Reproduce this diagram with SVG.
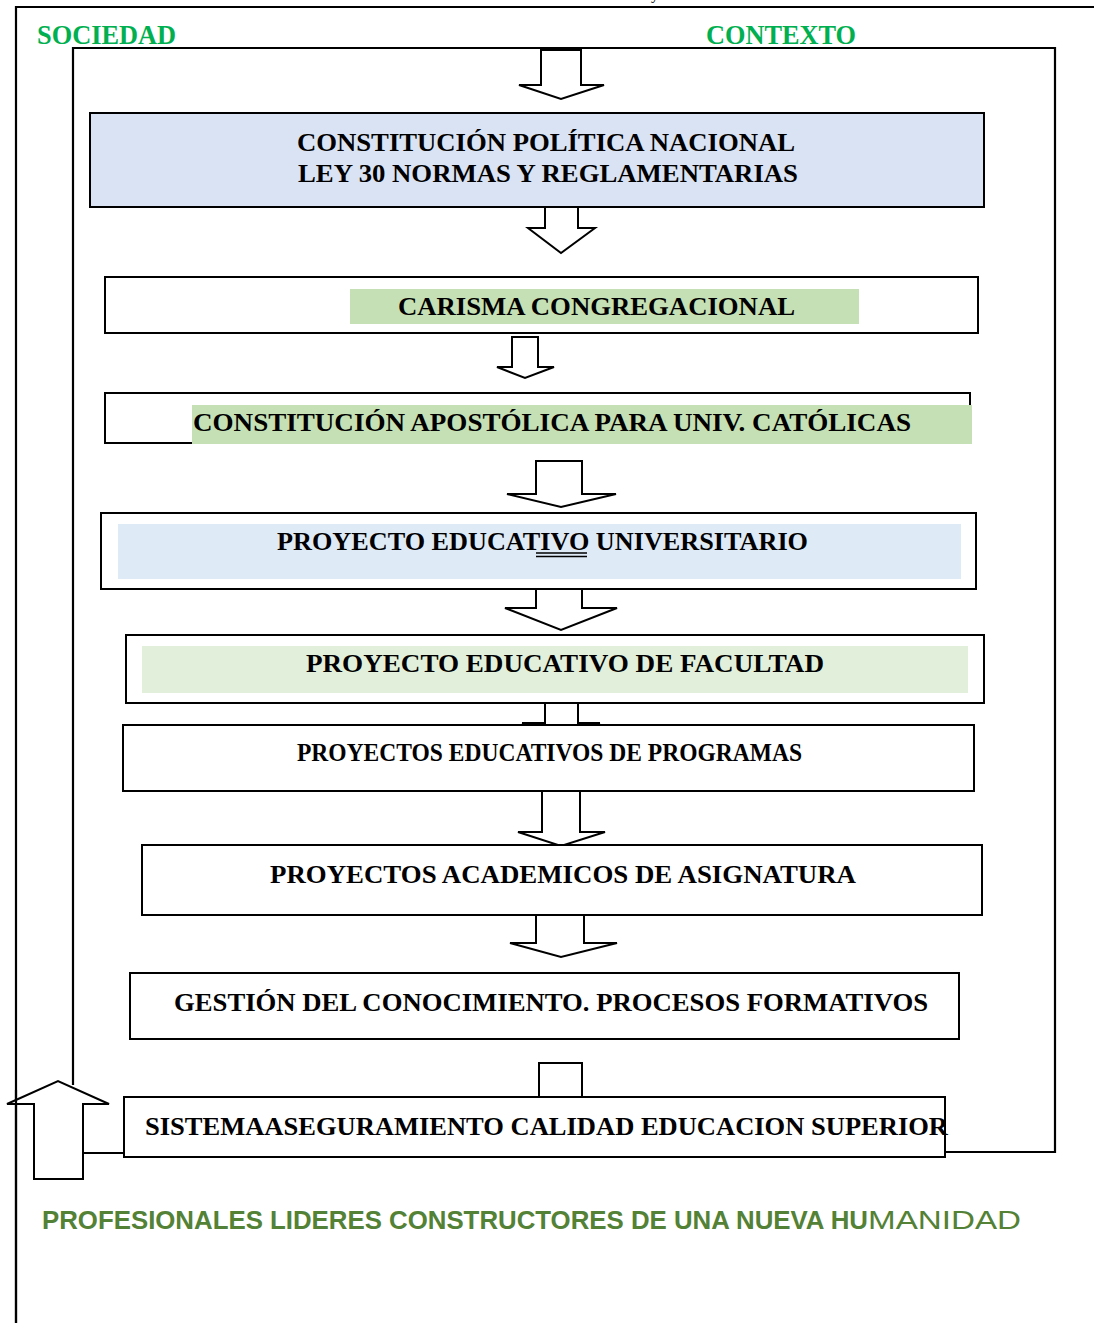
<svg xmlns="http://www.w3.org/2000/svg" width="1094" height="1323" viewBox="0 0 1094 1323">
<style>
.frame{fill:none;stroke:#000;stroke-width:2.2}
.box{fill:#fff;stroke:#000;stroke-width:2}
.arr{fill:#fff;stroke:#000;stroke-width:2;stroke-linejoin:miter}
.t{font-family:"Liberation Serif","Times New Roman",serif;font-weight:bold;font-size:26px;fill:#000;text-anchor:start}
.g{font-family:"Liberation Serif","Times New Roman",serif;font-weight:bold;font-size:27px;fill:#00B050}
.b{font-family:"Liberation Sans",Arial,sans-serif;font-size:26px;fill:#538135}
</style>
<rect width="1094" height="1323" fill="#fff"/>
<text x="651" y="-1" font-family="Liberation Serif,serif" font-size="16">y</text>
<g id="frames">
<polyline class="frame" points="1094,7 16,7 16,1323"/>
<polyline class="frame" points="73,1085 73,48 1055,48 1055,1152 945,1152"/>
</g>
<text class="g" x="37" y="44" textLength="139" lengthAdjust="spacingAndGlyphs">SOCIEDAD</text>
<text class="g" x="706" y="44" textLength="150" lengthAdjust="spacingAndGlyphs">CONTEXTO</text>
<g id="connectors">
<polygon class="arr" points="541,50 541,85 519,85 561,99 604,85 581,85 581,50"/>
<polygon class="arr" points="545,207 545,228 528,228 561,253 595,228 578,228 578,207"/>
<polygon class="arr" points="512,337 512,367 497,367 525,378 554,367 538,367 538,337"/>
<polygon class="arr" points="536,461 536,494 507,494 561,507 616,494 582,494 582,461"/>
<polygon class="arr" points="536,589 536,608 505,608 561,630 617,608 582,608 582,589"/>
<polygon class="arr" points="545,703 545,723 522,723 561,728 600,723 578,723 578,703"/>
<polygon class="arr" points="542,791 542,832 518,832 561,846 605,832 580,832 580,791"/>
<polygon class="arr" points="536,915 536,943 510,943 561,957 617,943 584,943 584,915"/>
<polyline class="arr" points="539,1098 539,1063 582,1063 582,1098"/>
<polygon class="arr" points="34,1179 34,1104 7,1104 58,1081 109,1104 83,1104 83,1179"/>
<line x1="83" y1="1153" x2="124" y2="1153" stroke="#000" stroke-width="2"/>
<line x1="16" y1="1090" x2="16" y2="1323" stroke="#000" stroke-width="2.2"/>
</g>
<g id="n1">
<rect x="90" y="113" width="894" height="94" fill="#DAE3F3" stroke="#000" stroke-width="2"/>
<text class="t" x="297" y="151" textLength="498" lengthAdjust="spacingAndGlyphs">CONSTITUCIÓN POLÍTICA NACIONAL</text>
<text class="t" x="298" y="182" textLength="500" lengthAdjust="spacingAndGlyphs">LEY 30 NORMAS Y REGLAMENTARIAS</text>
</g>
<g id="n2">
<rect class="box" x="105" y="277" width="873" height="56"/>
<rect x="350" y="289" width="509" height="35" fill="#C5E0B4"/>
<text class="t" x="398" y="315" textLength="397" lengthAdjust="spacingAndGlyphs">CARISMA CONGREGACIONAL</text>
</g>
<g id="n3">
<rect class="box" x="105" y="393" width="865" height="50"/>
<rect x="192" y="405" width="780" height="39" fill="#C5E0B4"/>
<text class="t" x="193" y="431" textLength="718" lengthAdjust="spacingAndGlyphs">CONSTITUCIÓN APOSTÓLICA PARA UNIV. CATÓLICAS</text>
</g>
<g id="n4">
<rect class="box" x="101" y="513" width="875" height="76"/>
<rect x="118" y="524" width="843" height="55" fill="#DEEAF6"/>
<text class="t" x="277" y="550" textLength="531" lengthAdjust="spacingAndGlyphs">PROYECTO EDUCATIVO UNIVERSITARIO</text>
<line x1="536" y1="553" x2="587" y2="553" stroke="#000" stroke-width="1.5"/>
<line x1="536" y1="556.5" x2="587" y2="556.5" stroke="#000" stroke-width="1.5"/>
</g>
<g id="n5">
<rect class="box" x="126" y="635" width="858" height="68"/>
<rect x="142" y="646" width="826" height="47" fill="#E2EFDA"/>
<text class="t" x="306" y="672" textLength="518" lengthAdjust="spacingAndGlyphs">PROYECTO EDUCATIVO DE FACULTAD</text>
</g>
<g id="n6">
<rect class="box" x="123" y="725" width="851" height="66"/>
<text class="t" x="297" y="761" font-size="23" textLength="505" lengthAdjust="spacingAndGlyphs">PROYECTOS  EDUCATIVOS DE PROGRAMAS</text>
</g>
<g id="n7">
<rect class="box" x="142" y="845" width="840" height="70"/>
<text class="t" x="270" y="883" textLength="586" lengthAdjust="spacingAndGlyphs">PROYECTOS ACADEMICOS DE ASIGNATURA</text>
</g>
<g id="n8">
<rect class="box" x="130" y="973" width="829" height="66"/>
<text class="t" x="174" y="1011" textLength="754" lengthAdjust="spacingAndGlyphs">GESTIÓN DEL CONOCIMIENTO. PROCESOS FORMATIVOS</text>
</g>
<g id="n9">
<rect class="box" x="124" y="1097" width="821" height="60"/>
<text class="t" x="145" y="1135" textLength="803" lengthAdjust="spacingAndGlyphs">SISTEMAASEGURAMIENTO CALIDAD EDUCACION SUPERIOR</text>
</g>
<g id="result">
<text class="b" x="42" y="1229" font-weight="bold" textLength="826" lengthAdjust="spacingAndGlyphs">PROFESIONALES LIDERES CONSTRUCTORES DE UNA NUEVA HU</text>
<text class="b" x="868" y="1229" textLength="153" lengthAdjust="spacingAndGlyphs">MANIDAD</text>
</g>
</svg>
